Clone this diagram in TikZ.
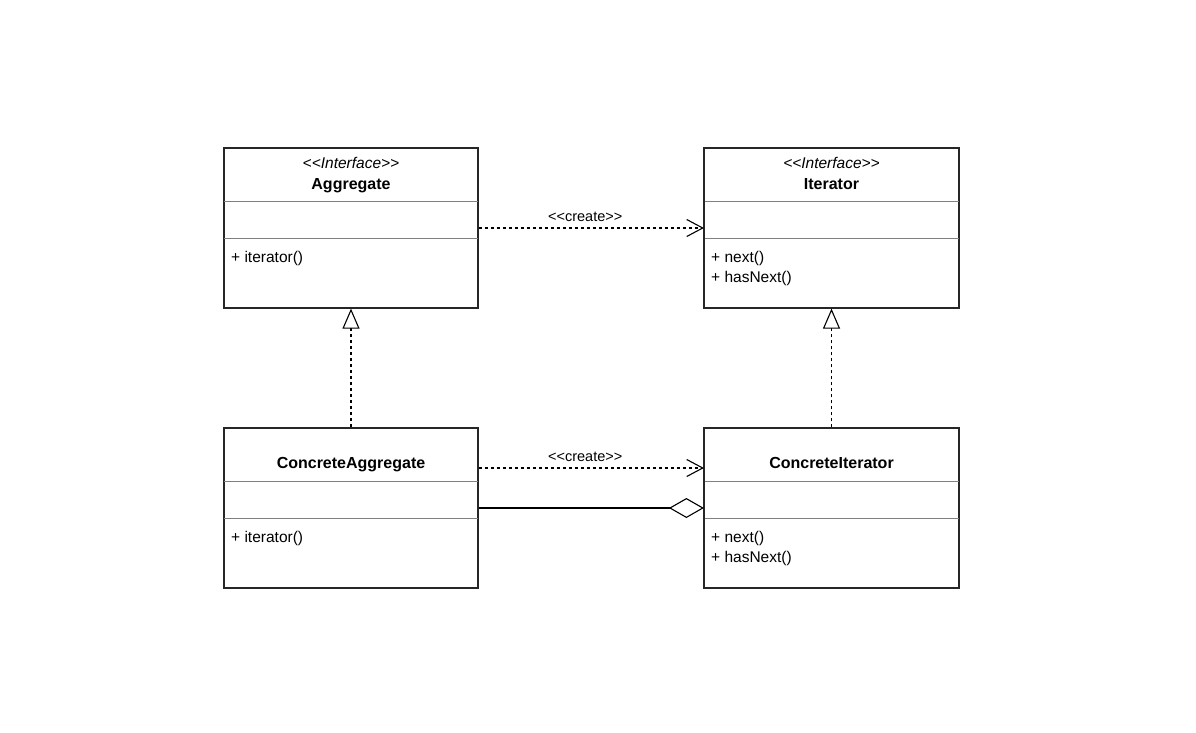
\documentclass[tikz,border=0pt]{standalone}
\usepackage{fontspec}
\setmainfont{Liberation Sans}
\usetikzlibrary{arrows.meta}
\newcommand{\stereotype}[1]{{<}{<}#1{>}{>}}
\begin{document}
\begin{tikzpicture}[x=1pt,y=-1pt,
  classbox/.style={draw=black!85,line width=1.2pt,minimum width=254pt,minimum height=160pt,inner sep=0pt},
  sepline/.style={draw=black!50,line width=0.9pt},
  stereo/.style={font=\fontsize{15.5}{18}\selectfont\itshape,inner sep=0pt,anchor=base},
  cname/.style={font=\fontsize{16}{18}\selectfont\bfseries,inner sep=0pt,anchor=base},
  member/.style={font=\fontsize{15.5}{18}\selectfont,anchor=base west,inner sep=0pt},
  elabel/.style={font=\fontsize{14.5}{16}\selectfont,inner sep=0pt},
  dep/.style={line width=1.1pt,dash pattern=on 3pt off 3pt,-{Straight Barb[length=16pt,width=17pt,line width=1.1pt]}},
  real/.style={line width=1.1pt,dash pattern=on 3pt off 3pt,-{Triangle[open,length=20pt,width=17pt,line width=1.1pt,fill=white]}},
  aggr/.style={line width=1.3pt,-{Diamond[open,length=35pt,width=20pt,line width=1.1pt,fill=white]}}
]
\useasboundingbox (0,0) rectangle (1196,732);

% class boxes
\node[classbox] (agg) at (351,228) {};
\node[classbox] (it) at (831.5,228) {};
\node[classbox] (cagg) at (351,508) {};
\node[classbox] (cit) at (831.5,508) {};

% compartment separators
\foreach \b in {agg,it,cagg,cit}{
  \draw[sepline] ([yshift=27pt]\b.west) -- ([yshift=27pt]\b.east);
  \draw[sepline] ([yshift=-10pt]\b.west) -- ([yshift=-10pt]\b.east);
  \draw[classbox] (\b.south west) rectangle (\b.north east);
}

% headers (placed on their baselines)
\node[stereo] (aggst) at (351,168.5) {\stereotype{Interface}};
\node[cname] (aggnm) at (351,189) {Aggregate};
\node[stereo] (itst) at (831.5,168.5) {\stereotype{Interface}};
\node[cname] (itnm) at (831.5,189) {Iterator};
\node[cname] (caggnm) at (351,468) {ConcreteAggregate};
\node[cname] (citnm) at (831.5,468) {ConcreteIterator};

% operations
\node[member] (aggop) at (231,262.5) {+ iterator()};
\node[member] (itop1) at (711,262.5) {+ next()};
\node[member] (itop2) at (711,282.5) {+ hasNext()};
\node[member] (caggop) at (231,542.5) {+ iterator()};
\node[member] (citop1) at (711,542.5) {+ next()};
\node[member] (citop2) at (711,562.5) {+ hasNext()};

% relations
\draw[dep] (agg.east) -- node[elabel,above=6pt,xshift=-6pt] (cr1) {\stereotype{create}} (it.west);
\draw[dep] ([yshift=40pt]cagg.east) -- node[elabel,above=6pt,xshift=-6pt] (cr2) {\stereotype{create}} ([yshift=40pt]cit.west);
\draw[aggr] (cagg.east) -- (cit.west);
\draw[real] (cagg.north) -- (agg.south);
\draw[real] (cit.north) -- (it.south);
\end{tikzpicture}
\end{document}
